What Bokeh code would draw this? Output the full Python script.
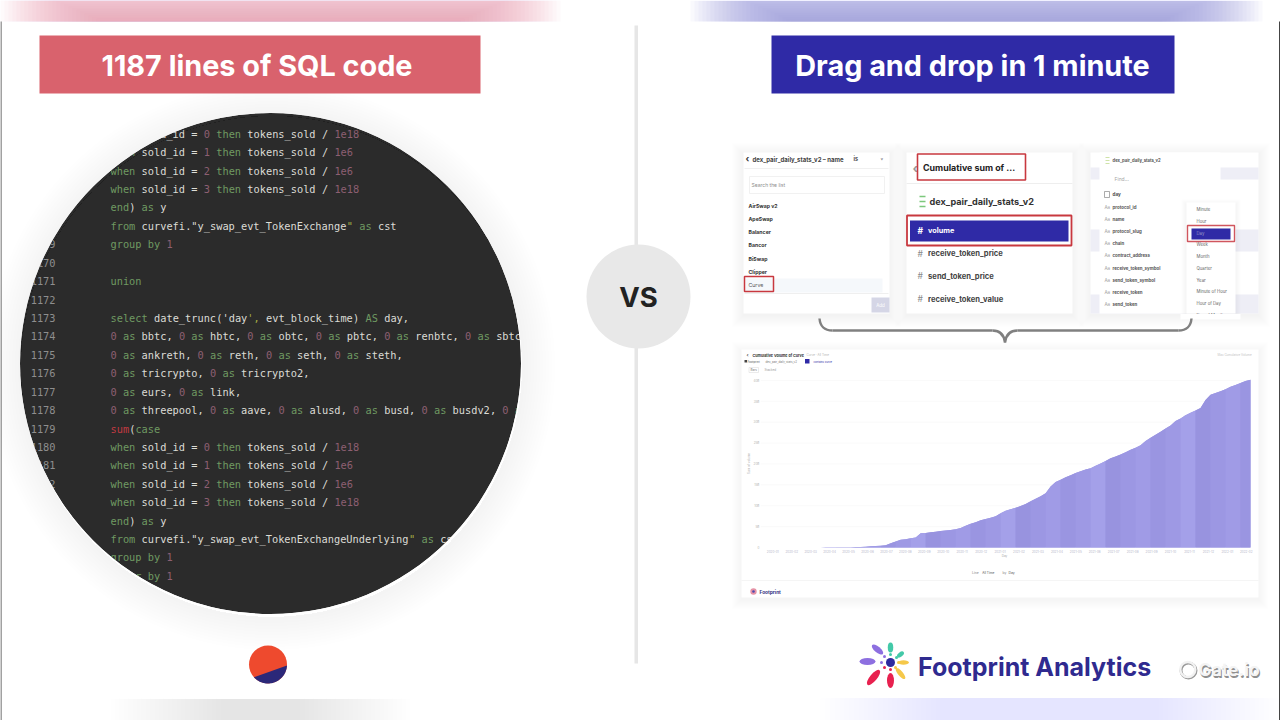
#!/usr/bin/env python
import re

import numpy as np
from bokeh.core.properties import value
from bokeh.embed import file_html
from bokeh.models import ColumnDataSource, Range1d
from bokeh.plotting import figure
from bokeh.resources import INLINE

# cumulative volume, billions, one step per value
VOLUME = [0, 0, 0, 0, 0, 0, 0, 0.01, 0.01, 0.01, 0.02, 0.02, 0.02, 0.03, 0.03, 0.04, 0.04, 0.05,
          0.06, 0.09, 0.13, 0.2, 0.28, 0.34, 0.42, 0.55, 1.0, 1.45, 1.85, 2.0, 2.2, 2.38, 3.39,
          3.5, 3.65, 3.8, 3.93, 4.05, 4.2, 4.35, 4.7, 5.2, 5.7, 6.05, 6.5, 6.8, 7.15, 7.5, 8.2,
          8.8, 9.15, 9.5, 9.95, 10.4, 11.1, 11.7, 12.3, 13.0, 14.6, 15.7, 16.25, 16.8, 17.3,
          17.85, 18.25, 18.7, 19.0, 19.6, 20.1, 20.7, 21.35, 21.8, 22.3, 22.8, 23.4, 23.9, 24.5,
          25.5, 26.3, 27.0, 27.7, 28.5, 29.2, 30.3, 30.9, 31.7, 32.3, 32.8, 33.4, 35.3, 36.6,
          37.0, 37.4, 37.9, 38.5, 38.9, 39.4, 39.9, 40.2]
Y_TICKS = [0, 5, 10, 15, 20, 25, 30, 35, 40]
Y_TICK_LABELS = ['0', '5B', '10B', '15B', '20B', '25B', '30B', '35B', '40B']
X_TICK_LABELS = ['2020-01', '2020-02', '2020-03', '2020-04', '2020-05', '2020-06', '2020-07',
                 '2020-08', '2020-09', '2020-10', '2020-11', '2020-12', '2021-01', '2021-02',
                 '2021-03', '2021-04', '2021-05', '2021-06', '2021-07', '2021-08', '2021-09',
                 '2021-10', '2021-11', '2021-12', '2022-01', '2022-02']

FIRST_LINE_NO = 1163
SQL_LINES = [
    'when sold_id = 0 then tokens_sold / 1e18',
    'when sold_id = 1 then tokens_sold / 1e6',
    'when sold_id = 2 then tokens_sold / 1e6',
    'when sold_id = 3 then tokens_sold / 1e18',
    'end) as y',
    'from curvefi."y_swap_evt_TokenExchange" as cst',
    'group by 1',
    '',
    'union',
    '',
    "select date_trunc('day', evt_block_time) AS day,",
    '0 as bbtc, 0 as hbtc, 0 as obtc, 0 as pbtc, 0 as renbtc, 0 as sbtc,',
    '0 as ankreth, 0 as reth, 0 as seth, 0 as steth,',
    '0 as tricrypto, 0 as tricrypto2,',
    '0 as eurs, 0 as link,',
    '0 as threepool, 0 as aave, 0 as alusd, 0 as busd, 0 as busdv2, 0 as',
    'sum(case',
    'when sold_id = 0 then tokens_sold / 1e18',
    'when sold_id = 1 then tokens_sold / 1e6',
    'when sold_id = 2 then tokens_sold / 1e6',
    'when sold_id = 3 then tokens_sold / 1e18',
    'end) as y',
    'from curvefi."y_swap_evt_TokenExchangeUnderlying" as cst',
    'group by 1',
    'order by 1',
]
NAME_FILTER_ITEMS = ['AirSwap v2', 'ApeSwap', 'Balancer', 'Bancor', 'BiSwap', 'Clipper', 'Curve']
COLUMN_ITEMS = ['receive_token_price', 'send_token_price', 'receive_token_value']
FIELD_ITEMS = ['protocol_id', 'name', 'protocol_slug', 'chain', 'contract_address',
               'receive_token_symbol', 'send_token_symbol', 'receive_token', 'send_token']
TIME_ITEMS = ['Minute', 'Hour', 'Day', 'Week', 'Month', 'Quarter', 'Year', 'Minute of Hour',
              'Hour of Day', 'Day of Month']

BLUE = '#2f2aa6'
RED_LINE = '#c8383f'
SANS = 'Inter'
MONO = 'DejaVu Sans Mono'

# the frame is laid out in page pixels of the 1280x720 slide
p = figure(width=1280, height=720, x_range=Range1d(0, 1280), y_range=Range1d(720, 0),
           output_backend='svg', toolbar_location=None, x_axis_location=None,
           y_axis_location=None, min_border=0, tools='')
p.grid.visible = False
p.outline_line_color = None
p.background_fill_color = 'white'
p.border_fill_color = 'white'


def label(x, y, text, size, color='#333333', bold=False, align='left', font=SANS, **kw):
  p.text([x], [y], text=[text], text_font=value(font), text_font_size='{}px'.format(size),
         text_color=color, text_align=align, text_baseline='middle',
         text_font_style='bold' if bold else 'normal', **kw)


def box(x0, y0, x1, y1, fill='white', line=None, width=1, **kw):
  p.quad(left=[x0], right=[x1], top=[y0], bottom=[y1], fill_color=fill, line_color=line,
         line_width=width, **kw)


def shadow(x0, y0, x1, y1, spread=12, alpha=0.005):
  for k in range(1, spread + 1):
    box(x0 - k, y0 - k + 2, x1 + k, y1 + k + 2, fill='#555566', fill_alpha=alpha)


def glow(x0, x1, y0, y1, color, fade, peak, layers=26, ramp=True):
  # soft strip: nested translucent boxes, strongest in the middle
  a = 1 - (1 - peak) ** (1 / layers)
  for k in range(layers):
    t = k / (layers - 1)
    top = y0 + (y1 - y0) * max(0, t - 0.55) / 0.45 * 0.95 if ramp else y0
    box(x0 + fade * t, top, x1 - fade * t, y1, fill=color, fill_alpha=a)


# top colour strips
glow(0, 560, 0, 21, '#e89ea5', 100, 0.72)
glow(690, 1262, 0, 21, '#9896d6', 100, 0.8)

# code circle: text is cut by a white ring laid over it
CX, CY, CR = 270, 363, 250.5
p.circle([CX], [CY], radius=CR, fill_color='#2b2b2b', line_color=None)

ROW0, ROW_H, CODE_X, CHAR_W = 133.3, 18.42, 110, 6.22
KEYWORDS = {'when', 'then', 'end', 'as', 'AS', 'from', 'group', 'by', 'order', 'union', 'select',
            'case'}
code = dict(x=[], y=[], text=[], color=[])
nums = dict(x=[], y=[], text=[])
for n, line in enumerate(SQL_LINES):
  y = ROW0 + n * ROW_H
  nums['x'].append(55)
  nums['y'].append(y)
  nums['text'].append(str(FIRST_LINE_NO + n))
  for m in re.finditer(r"\"[^\"]*\"|'[^']*'|\w+|[^\s\w]+", line):
    tok = m.group()
    if tok in KEYWORDS:
      color = '#6f9a62'
    elif tok == 'sum':
      color = '#c23a42'
    elif tok[0] in '"\'':
      color = '#a5ad45'
    elif re.fullmatch(r'\d+(e\d+)?', tok):
      color = '#8d5f72'
    else:
      color = '#dcdcd6'
    code['x'].append(CODE_X + m.start() * CHAR_W)
    code['y'].append(y)
    code['text'].append(tok)
    code['color'].append(color)
p.text('x', 'y', text='text', source=ColumnDataSource(nums), text_font=value(MONO),
       text_font_size='10.3px', text_color='#8e8e8e', text_align='right', text_baseline='middle')
p.text('x', 'y', text='text', text_color='color', source=ColumnDataSource(code),
       text_font=value(MONO), text_font_size='10.3px', text_align='left', text_baseline='middle')
p.annulus([CX], [CY], inner_radius=CR, outer_radius=340, fill_color='white', line_color=None)
for k in range(3, 36, 3):
  p.annulus([CX + 1], [CY + 3], inner_radius=CR, outer_radius=CR + k, fill_color='#444444',
            fill_alpha=0.007, line_color=None)

# bottom strips go over the white ring
glow(110, 410, 698, 720, '#c4b2a8', 110, 0.24, ramp=False)
glow(820, 1278, 698, 720, '#b8b4dc', 120, 0.18, ramp=False)

# thin frame lines left in the capture
box(0, 21, 1, 720, fill='#444444')
box(1278.5, 21, 1279.5, 720, fill='#444444')

# headers
box(39, 35, 480, 93, fill='#d9626d')
label(256.5, 65, '1187 lines of SQL code', 28.8, 'white', True, 'center')
box(771, 35, 1174, 93, fill=BLUE)
label(972, 65, 'Drag and drop in 1 minute', 28.8, 'white', True, 'center')

# divider and VS badge
box(634, 25, 637.5, 663, fill='#e6e6e6')
p.circle([638], [296], radius=52, fill_color='#e8e8e8', line_color=None)
label(638, 296, 'VS', 27.5, '#222222', True, 'center')

# small round logo
PX, PY, PR = 267.5, 664, 19
p.circle([PX], [PY], radius=PR, fill_color='#ee4a2e', line_color=None)
arc = np.radians(np.linspace(3, 138, 40))
p.patch(PX + PR * np.cos(arc), PY + PR * np.sin(arc), fill_color='#2b2879', line_color=None)

# filter panel
shadow(743, 152, 889, 313)
box(743, 152, 889, 313)
label(745, 158, '\u2039', 9, '#333333', True)
label(752, 158.5, 'dex_pair_daily_stats_v2 \u2013 name', 6, '#444444', True)
label(853, 158.5, 'is', 5.5, '#444444', True)
label(880, 158.5, '\u02c5', 6, '#777777')
p.segment([744], [168], [888], [168], line_color='#f0f0f0')
box(749, 176, 884, 193, fill='white', line='#f1f1f1')
label(751, 184.5, 'Search the list', 5, '#8d8d8d')
box(745, 278, 882, 292, fill='#f5f8fb')
for n, item in enumerate(NAME_FILTER_ITEMS):
  label(748, 205 + n * 13.3, item, 5.2, '#555555' if item == 'Curve' else '#333333', item != 'Curve')
p.segment([744], [293], [888], [293], line_color='#efefef')
box(744, 276, 773, 291, fill=None, line=RED_LINE, width=1.5)
box(871, 297, 889, 312, fill='#d5d6e6')
label(880, 304.5, 'Add', 4.5, 'white', False, 'center')

# column panel
shadow(906, 152, 1072, 313)
box(906, 152, 1072, 313)
label(912, 167, '\u2039', 13, '#999999', True)
label(922.5, 166.5, 'Cumulative sum of ...', 8.9, '#222222', True)
box(917, 153.5, 1025, 179.5, fill=None, line=RED_LINE, width=1.6)
p.segment([906], [183], [1072], [183], line_color='#eeeeee')
for dy in (-5, 0, 5):
  p.segment([919], [201 + dy], [925], [201 + dy], line_color='#7cc87c', line_width=1.5)
label(929, 201, 'dex_pair_daily_stats_v2', 9.1, '#333333', True)
box(906.5, 215, 1071, 245, fill='white', line=RED_LINE, width=1.8)
box(909.5, 220, 1068, 241, fill=BLUE)
label(917, 230, '#', 8.5, 'white', True)
label(927.6, 230, 'volume', 7.3, 'white', True)
for n, item in enumerate(COLUMN_ITEMS):
  label(917, 253 + n * 22.8, '#', 8.5, '#888888')
  label(927.6, 253 + n * 22.8, item, 7.6, '#444444', True)

# time granularity panel
shadow(1090, 152, 1258, 313)
box(1090, 152, 1258, 313)
for y0, y1 in ((167, 179), (229, 251), (294, 313)):
  box(1090, y0, 1258, y1, fill='#eeeef6')
box(1099, 152, 1220, 313)
for dy in (-3, 0, 3):
  p.segment([1105], [160 + dy], [1109], [160 + dy], line_color='#cfe3a8', line_width=1)
label(1112, 160, 'dex_pair_daily_stats_v2', 4.2, '#555555', True)
label(1114, 178, 'Find...', 5, '#a5a5a5')
box(1104, 191, 1109, 197, fill=None, line='#888888', width=0.7)
label(1112, 194, 'day', 4.6, '#444444', True)
for n, item in enumerate(FIELD_ITEMS):
  label(1104, 206.5 + n * 12.2, 'Aa', 4.5, '#999999')
  label(1112, 206.5 + n * 12.2, item, 4.4, '#555555', True)
shadow(1186, 202, 1235, 313, spread=5, alpha=0.012)
box(1186, 202, 1235, 313)
box(1191, 228, 1230, 239, fill=BLUE)
box(1187, 225, 1234, 241, fill=None, line='#d0565e', width=1.4)
for n, item in enumerate(TIME_ITEMS):
  label(1196, 209 + n * 11.75, item, 4.3, '#9a9ac8' if item == 'Day' else '#666666')
box(1180, 313.5, 1240, 319)

# brace under the panels
BRACE = dict(line_color='#808080', line_width=2.4)
p.quadratic([819], [318], [832], [330], cx=[820], cy=[330], **BRACE)
p.segment([832], [330], [992], [330], **BRACE)
p.quadratic([992], [330], [1004.5], [342], cx=[1003], cy=[330], **BRACE)
p.quadratic([1004.5], [342], [1017], [330], cx=[1006], cy=[330], **BRACE)
p.segment([1017], [330], [1178], [330], **BRACE)
p.quadratic([1178], [330], [1191], [318], cx=[1190], cy=[330], **BRACE)

# chart card
shadow(741, 349, 1258, 597, spread=10)
box(741, 349, 1258, 597)
label(746, 354.5, '\u2039', 5, '#555555', True)
label(752, 354.5, 'Cumulative Volume of Curve', 3.7, '#333333', True)
label(806, 354.5, 'Curve  \u00b7  All Time', 3, '#b5b5b5')
box(744, 359.5, 746.5, 362, fill='#444444')
label(747, 361, 'Footprint', 2.9, '#555555')
label(765, 361, 'dex_pair_daily_stats_v2', 2.9, '#777777')
box(804.5, 358.5, 809, 363, fill=BLUE)
label(813, 361, 'contains Curve', 2.6, BLUE)
box(748.5, 367, 758, 372, fill=None, line='#dddddd', width=0.6)
label(753.2, 369.5, 'Bars', 3, '#777777', False, 'center')
label(764, 369.5, 'Stacked', 3, '#999999')
label(1217, 354, 'Max Cumulative Volume', 3, '#c4c4c4')

# the chart itself goes through its own scales
BAR_LEFT, BAR_RIGHT, BASE_PX, TOP_PX = 760.3, 1250, 547, 380
bar_px = (BAR_RIGHT - BAR_LEFT) / (len(VOLUME) - 1)
unit_px = (BASE_PX - TOP_PX) / Y_TICKS[-1]
p.extra_x_ranges['chart'] = Range1d((0 - BAR_LEFT) / bar_px, (1280 - BAR_LEFT) / bar_px)
p.extra_y_ranges['chart'] = Range1d((BASE_PX - 720) / unit_px, (BASE_PX - 0) / unit_px)
on_chart = dict(x_range_name='chart', y_range_name='chart')

idx = list(range(len(VOLUME)))
BAND_SHADES = ['#9c97e3', '#a09be6', '#9a95e1', '#9e99e4', '#a4a0e9', '#9893df']
for tick in Y_TICKS[1:]:
  p.segment([idx[0]], [tick], [idx[-1]], [tick], line_color='#f7f7f7', line_width=0.6, **on_chart)
p.varea(x=idx, y1=0, y2=VOLUME, fill_color=BAND_SHADES[0], **on_chart)
for n, start in enumerate(range(0, len(VOLUME) - 1, 3)):
  end = min(start + 3, len(VOLUME) - 1)
  p.varea(x=idx[start:end + 1], y1=0, y2=VOLUME[start:end + 1],
          fill_color=BAND_SHADES[n % len(BAND_SHADES)], **on_chart)
p.text(x=[-0.3] * len(Y_TICKS), y=Y_TICKS, text=Y_TICK_LABELS, text_font=value(SANS),
       text_font_size='3px', text_color='#b0b0b0', text_align='right', text_baseline='middle',
       **on_chart)
x_ticks = [2.4 + 3.79 * k for k in range(len(X_TICK_LABELS))]
p.text(x=x_ticks, y=[-1.0] * len(x_ticks), text=X_TICK_LABELS, text_font=value(SANS),
       text_font_size='3px', text_color='#b4b4c8', text_align='center', text_baseline='middle',
       **on_chart)
label(1004, 555, 'Day', 3, '#aaaaaa', False, 'center')
label(748.5, 463, 'Sum of volume', 3, '#b0b0b0', False, 'center', angle=np.pi / 2)

label(971.5, 572.5, 'Line', 3.4, '#888888')
label(981.7, 572.5, 'All Time', 3.2, '#555555')
label(1002, 572.5, 'by', 3.4, '#888888')
label(1008, 572.5, 'Day', 3.4, '#555555')
p.segment([741], [580], [1258], [580], line_color='#f5f5f5')
p.circle([753], [591], radius=3.2, fill_color='#d44a6a', fill_alpha=0.6, line_color=None)
p.circle([753], [591], radius=1.3, fill_color='#4c4ab0', line_color=None)
label(759, 591, 'Footprint', 4.8, '#35337f', True)

# brand flower
FX, FY = 890, 662
PETAL_X = [-23, -13, 0, 10, 13, 10, 0, -17]
PETAL_Y = [-1, -13, -15, -8, 0, 11, 18, 15]
PETAL_W = [16, 14, 10, 8, 11, 14, 15, 19]
PETAL_H = [7, 6, 5.5, 4.5, 4.5, 5, 7, 7]
PETAL_A = [0, -40, 90, 38, 0, -50, 90, 50]
PETAL_C = ['#8d6fe0', '#8d6fe0', '#43c9a8', '#43c9a8', '#f5c84a', '#f5c84a', '#e8214f', '#e8214f']
p.ellipse(x=[FX + v for v in PETAL_X], y=[FY + v for v in PETAL_Y], width=PETAL_W, height=PETAL_H,
          angle=PETAL_A, angle_units='deg', fill_color=PETAL_C, line_color=None)
DOT_X = [-9, -6, 0, 6, 8, 5, 0, -6]
DOT_Y = [0, -6, -8, -5, 0, 5, 7, 5]
p.circle(x=[FX + v for v in DOT_X], y=[FY + v for v in DOT_Y], radius=1.5, fill_color=PETAL_C,
         line_color=None)
p.circle([FX], [FY], radius=4.5, fill_color='#2e2a9e', line_color=None)
label(917.5, 666, 'Footprint Analytics', 25, '#2f2a8f', True)

p.circle([1188], [670], radius=7.5, fill_color=None, line_color='#9a9a9a', line_width=3)
p.circle([1187.3], [669], radius=7.5, fill_color=None, line_color='#f2f2f2', line_width=2.4)
label(1199, 670.5, 'Gate.io', 17.5, '#8f8f8f', True)
label(1198, 669, 'Gate.io', 17.5, '#f4f4f4', True)

open('out.html', 'w').write(file_html(p, INLINE))
